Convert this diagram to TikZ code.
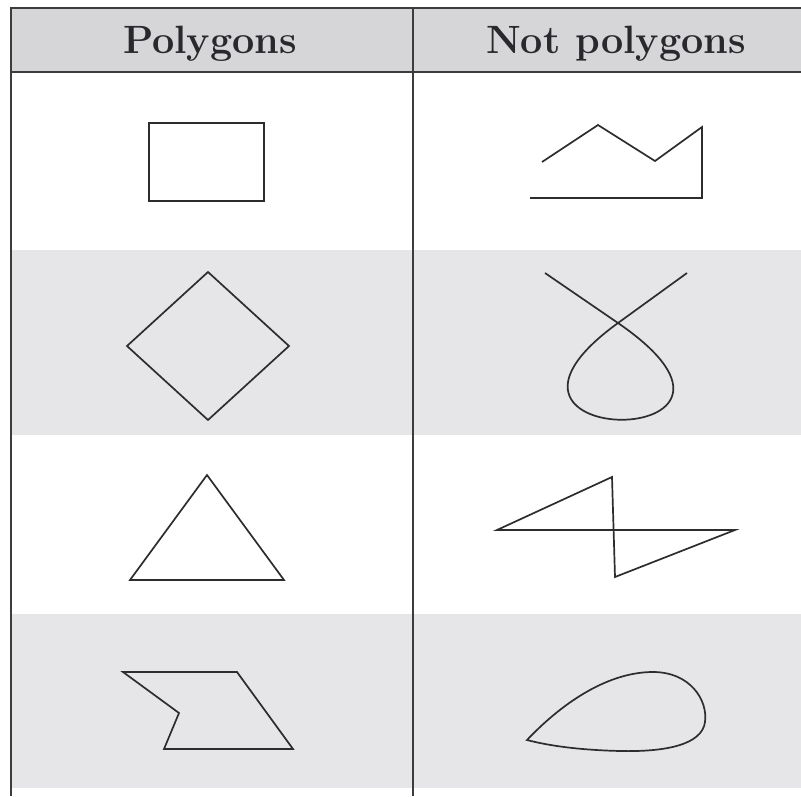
\documentclass[tikz,border=0pt]{standalone}
\definecolor{headgray}{RGB}{214,214,216}
\definecolor{rowgray}{RGB}{230,230,232}
\definecolor{rulecol}{RGB}{60,60,60}
\definecolor{shapecol}{RGB}{45,45,45}
\definecolor{textcol}{RGB}{40,40,45}
\begin{document}
\begin{tikzpicture}[x=1pt,y=-1pt,
  fig/.style={draw=shapecol,line width=1.7pt,line join=miter},
  rule/.style={draw=rulecol,line width=2.6pt},
  head/.style={anchor=base,text=textcol,inner sep=0pt,font=\fontsize{39.5}{47}\selectfont\bfseries}]
\useasboundingbox (0,0) rectangle (801,796);
\fill[white] (0,0) rectangle (801,796);
% shading
\fill[headgray] (11,8) rectangle (801,72);
\fill[rowgray] (11,250) rectangle (801,435);
\fill[rowgray] (11,614) rectangle (801,788);
% rules
\draw[rule] (10,8) -- (801,8);
\draw[rule] (10,72) -- (801,72);
\draw[rule] (11,7) -- (11,796);
\draw[rule] (413,7) -- (413,796);
% headers
\node[head] (h1) at (210,53) {Polygons};
\node[head] (h2) at (616,53) {Not polygons};
% left column: polygons
\draw[fig] (149,123) rectangle (264,201);
\draw[fig] (127,346) -- (208,272) -- (289,346) -- (208,420) -- cycle;
\draw[fig] (207,475) -- (284,580) -- (130,580) -- cycle;
\draw[fig] (123,672) -- (237,672) -- (293,749) -- (164,749) -- (179,713) -- cycle;
% right column: not polygons
\draw[fig] (542,162) -- (598,125) -- (655,161) -- (702,127) -- (702,198) -- (530,198);
\draw[fig] (545,273) -- (618,323) .. controls (806,452) and (440,452) .. (618,323) -- (687,273);
\draw[fig] (497,530) -- (612,477) -- (615,577) -- (735,530) -- cycle;
\draw[fig] (527,740) .. controls (565,700) and (610,672) .. (653,672)
  .. controls (690,672) and (708,700) .. (705,722)
  .. controls (702,745) and (665,752) .. (620,751)
  .. controls (580,750) and (550,746) .. (527,740) -- cycle;
\end{tikzpicture}
\end{document}
